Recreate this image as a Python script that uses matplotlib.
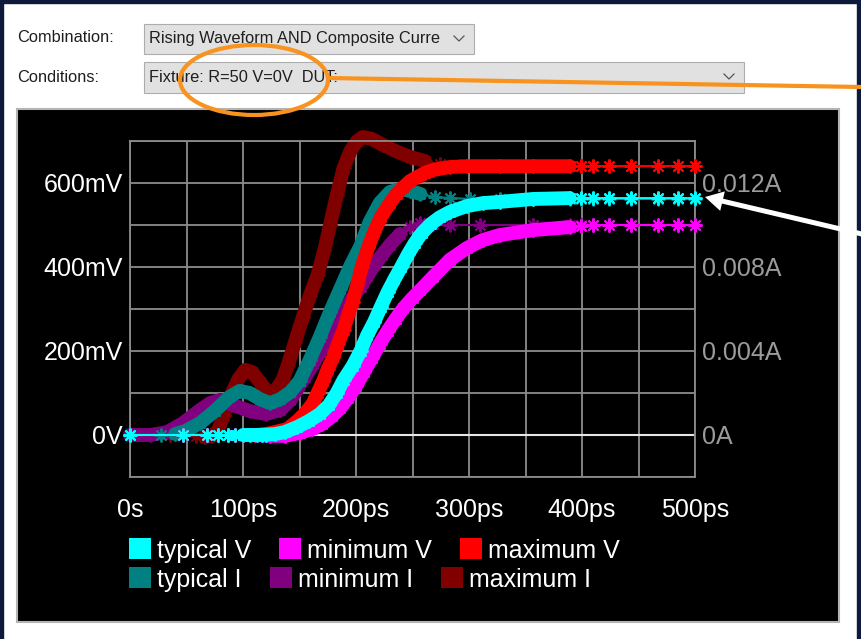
import matplotlib
matplotlib.use("Agg")
import matplotlib.pyplot as plt
from matplotlib.patches import Rectangle, Ellipse, FancyArrow
import numpy as np

plt.rcParams.update({
    "font.family": ["Liberation Sans", "DejaVu Sans"],
    "figure.dpi": 100,
})

W, H = 861, 639

# ---- data (time in ps, V in mV, I in A) ----
typ_v_t = [0, 47, 68, 78, 87, 93, 100, 106, 112, 117, 120, 128, 137, 148, 158, 168, 176, 183, 189, 197,
           204, 210, 216, 222, 228, 234, 240, 246, 252, 258, 266, 274, 283, 298, 312, 327, 357, 389, 399, 410,
           424, 443, 467, 485, 500]
typ_v = [0, 0, 0, 0, 0, 0, 0, 0, 0, 0.5, 1, 2, 7, 19, 33, 50, 71, 100, 131, 164,
         200, 238, 269, 305, 340, 371, 400, 430, 457, 480, 502, 518, 531, 545, 552, 555, 562, 564, 564, 564,
         564, 564, 564, 564, 564]

min_v_t = [0, 47, 68, 78, 87, 93, 100, 111, 124, 137, 150, 161, 170, 179, 186, 193, 200, 207, 214, 221,
           228, 235, 242, 250, 257, 268, 283, 298, 312, 327, 357, 389, 399, 410, 424, 443, 467, 485, 500]
min_v = [0, 0, 0, 0, 0, 0, 0, 0, -2, -2, 5, 14, 26, 45, 64, 88, 117, 150, 183, 217,
         248, 276, 302, 326, 345, 376, 417, 445, 464, 476, 488, 495, 498, 500, 500, 500, 500, 500, 500]

max_v_t = [0, 47, 68, 78, 87, 93, 100, 111, 120, 128, 139, 148, 155, 162, 166, 171, 175, 180, 184, 189,
           193, 197, 201, 205, 211, 216, 222, 230, 236, 242, 248, 254, 261, 268, 283, 298, 327, 357, 389, 399,
           410, 424, 443, 467, 485, 500]
max_v = [0, 0, 0, 0, 0, 0, 0, 0, 2, 7, 14, 33, 52, 76, 100, 129, 157, 186, 217, 250,
         286, 317, 357, 400, 448, 483, 519, 552, 574, 590, 605, 614, 624, 631, 638, 640, 640, 640, 640, 640,
         640, 640, 640, 640, 640, 640]

typ_i_t = [0, 27, 40, 49, 62, 75, 88, 97, 106, 115, 124, 133, 142, 150, 159, 168, 177, 186, 195, 204,
           212, 221, 230, 239, 248, 257, 270, 283, 301, 327, 357, 389, 399, 410, 424, 443, 467, 485, 500]
typ_i = [0, 0, 0.00005, 0.00019, 0.00057, 0.00114, 0.00181, 0.00210, 0.00200, 0.00171,
         0.00152, 0.00171, 0.00205, 0.00257, 0.00357, 0.00467, 0.00586, 0.00695, 0.00805, 0.00900,
         0.01014, 0.01105, 0.01157, 0.01171, 0.01162, 0.01148, 0.01133, 0.01129, 0.01124, 0.01124,
         0.01124, 0.01124, 0.01124, 0.01124, 0.01124, 0.01124, 0.01124, 0.01124, 0.01124]

min_i_t = [0, 18, 33, 47, 62, 71, 80, 91, 106, 120, 133, 142, 148, 155, 162, 168, 174, 181, 186, 192,
           197, 204, 210, 217, 223, 230, 239, 248, 257, 268, 283, 310, 357, 389, 399, 410, 424, 443, 467, 485,
           500]
min_i = [0, 0, 0.00014, 0.00057, 0.00119, 0.00152, 0.00167, 0.00143, 0.00114, 0.00100,
         0.00119, 0.00167, 0.00219, 0.00276, 0.00338, 0.00395, 0.00452, 0.00510, 0.00557, 0.00610,
         0.00657, 0.00705, 0.00757, 0.00814, 0.00857, 0.00905, 0.00957, 0.00990, 0.01010, 0.01005,
         0.0100, 0.0100, 0.0100, 0.0100, 0.0100, 0.0100, 0.0100, 0.0100, 0.0100, 0.0100, 0.0100]

max_i_t = [0, 35, 58, 66, 73, 78, 83, 89, 96, 102, 108, 115, 122, 128, 135, 140, 146, 153, 159, 166,
           172, 177, 183, 189, 195, 201, 206, 214, 224, 235, 248, 261, 274, 292, 327, 357, 389, 399, 410, 424,
           443, 467, 485, 500]
max_i = [0, 0, -0.00005, -0.0001, -0.00005, 0.00024, 0.00095, 0.00186, 0.00267, 0.00310,
         0.00300, 0.00252, 0.00205, 0.00205, 0.00262, 0.00338, 0.00443, 0.00562, 0.00662, 0.00762,
         0.00881, 0.01000, 0.01143, 0.01271, 0.01352, 0.01400, 0.01419, 0.01410, 0.01381, 0.01352,
         0.01324, 0.01305, 0.01290, 0.01281, 0.01281, 0.01281, 0.01281, 0.01281, 0.01281, 0.01281,
         0.01281, 0.01281, 0.01281, 0.01281]

x_ticks = [0, 100, 200, 300, 400, 500]
x_labels = ["0s", "100ps", "200ps", "300ps", "400ps", "500ps"]
v_ticks = [0, 200, 400, 600]
v_labels = ["0V", "200mV", "400mV", "600mV"]
i_ticks = [0, 0.004, 0.008, 0.012]
i_labels = ["0A", "0.004A", "0.008A", "0.012A"]

# label, colour, dense-sampling window (ps) drawn as a solid band
V_SERIES = [("typical V", "#00ffff", typ_v_t, typ_v, (100, 390)),
            ("minimum V", "#ff00ff", min_v_t, min_v, (110, 390)),
            ("maximum V", "#ff0000", max_v_t, max_v, (110, 390))]
I_SERIES = [("typical I", "#008080", typ_i_t, typ_i, (30, 260)),
            ("minimum I", "#800080", min_i_t, min_i, (0, 245)),
            ("maximum I", "#800000", max_i_t, max_i, (60, 270))]

NAVY = "#0d1a3c"
ORANGE = "#f7931e"
GRID = "#8c8c8c"
ASTER = (8, 2, 0)


def px_rect(x0, y0, x1, y1):
    return [x0 / W, 1 - y1 / H, (x1 - x0) / W, (y1 - y0) / H]


def draw(ax, t, v, color, band):
    t = np.asarray(t, float)
    v = np.asarray(v, float)
    m = (t >= band[0]) & (t <= band[1])
    ax.plot(t[m], v[m], color=color, lw=10, solid_capstyle="round",
            solid_joinstyle="round", clip_on=False)
    ax.plot(t, v, color=color, lw=1.5, marker=ASTER, ms=10, mew=1.4, clip_on=False)


fig = plt.figure(figsize=(W / 100, H / 100), dpi=100, facecolor="white")

# ---- dialog background / controls (pixel coordinates) ----
bg = fig.add_axes([0, 0, 1, 1], zorder=0)
bg.set_xlim(0, W)
bg.set_ylim(H, 0)
bg.axis("off")

bg.add_patch(Rectangle((0, 0), W, 3, color=NAVY))
bg.add_patch(Rectangle((0, 0), 3, H, color=NAVY))
bg.add_patch(Rectangle((857, 0), 4, H, color=NAVY))

ui = dict(fontsize=11.8, color="#1e1e1e", va="center", ha="left")
bg.text(17, 38, "Combination:", **ui)
bg.text(17, 77, "Conditions:", **ui)

bg.add_patch(Rectangle((143.5, 23.5), 330, 30, fc="#e1e1e1", ec="#adadad", lw=0.8))
bg.add_patch(Rectangle((143.5, 61.5), 600, 31, fc="#e1e1e1", ec="#adadad", lw=0.8))
clip = Rectangle((144, 24), 304, 29, transform=bg.transData)
t1 = bg.text(149, 38.5, "Rising Waveform AND Composite Curre", clip_on=True, **ui)
t1.set_clip_path(clip)
bg.text(149, 77.5, "Fixture: R=50 V=0V  DUT:", **ui)
bg.plot([454, 459, 464], [36, 41, 36], color="#555555", lw=0.9)
bg.plot([724, 729, 734], [74, 79, 74], color="#555555", lw=0.9)

bg.add_patch(Rectangle((17, 109), 822, 513, fc="black", ec="#b4b4b4", lw=1.5))

# ---- chart ----
rect = px_rect(130, 141, 695, 477)
ax_i = fig.add_axes(rect, zorder=1)
ax_i.set_facecolor("black")
ax_i.set_xlim(0, 500)
ax_i.set_ylim(-0.002, 0.014)
ax_i.set_xticks(x_ticks)
ax_i.set_xticklabels(x_labels)
ax_i.set_xticks(np.arange(50, 500, 100), minor=True)
ax_i.yaxis.tick_right()
ax_i.set_yticks(i_ticks)
ax_i.set_yticklabels(i_labels)
ax_i.set_yticks([-0.002, 0.002, 0.006, 0.010, 0.014], minor=True)
ax_i.tick_params(axis="x", which="both", length=0, labelsize=18, labelcolor="white", pad=15)
ax_i.tick_params(axis="y", which="both", length=0, labelsize=18, labelcolor="#9b9b9b", pad=5)
ax_i.set_axisbelow(True)
ax_i.grid(which="both", color=GRID, lw=1.3)
for s in ax_i.spines.values():
    s.set_color(GRID)
    s.set_linewidth(1.3)
ax_i.axhline(0, color="#e6e6e6", lw=1.5, zorder=0.9)

for label, color, t, v, band in I_SERIES[::-1]:
    draw(ax_i, t, v, color, band)

ax_v = fig.add_axes(rect, zorder=2)
ax_v.set_facecolor("none")
ax_v.set_xlim(0, 500)
ax_v.set_ylim(-100, 700)
ax_v.set_xticks([])
ax_v.set_yticks(v_ticks)
ax_v.set_yticklabels(v_labels)
ax_v.tick_params(axis="y", length=0, labelsize=18, labelcolor="white", pad=5)
for s in ax_v.spines.values():
    s.set_visible(False)

for label, color, t, v, band in V_SERIES[::-1]:
    draw(ax_v, t, v, color, band)

# ---- legend, laid out left to right like the original control ----
renderer = fig.canvas.get_renderer()
for row, yc in ((V_SERIES, 548.5), (I_SERIES, 577.5)):
    x = 129
    for label, color, *_ in row:
        bg.add_patch(Rectangle((x, yc - 10.5), 22, 21, fc=color, ec="none"))
        txt = bg.text(x + 28, yc + 2.5, label, fontsize=18, color="white", va="center", ha="left")
        x += 28 + txt.get_window_extent(renderer).width + 28

# ---- annotations drawn over everything ----
fg = fig.add_axes([0, 0, 1, 1], zorder=10)
fg.set_xlim(0, W)
fg.set_ylim(H, 0)
fg.axis("off")
fg.patch.set_alpha(0)
fg.add_patch(Ellipse((254, 80), 148, 70, fill=False, ec=ORANGE, lw=3))
fg.plot([328, 861], [78, 87], color=ORANGE, lw=3, solid_capstyle="butt")
fg.add_patch(FancyArrow(866, 235, -161, -38, width=5, head_width=20, head_length=18,
                        length_includes_head=True, color="white", lw=0))

fig.savefig("out.png", dpi=100, facecolor="white")
